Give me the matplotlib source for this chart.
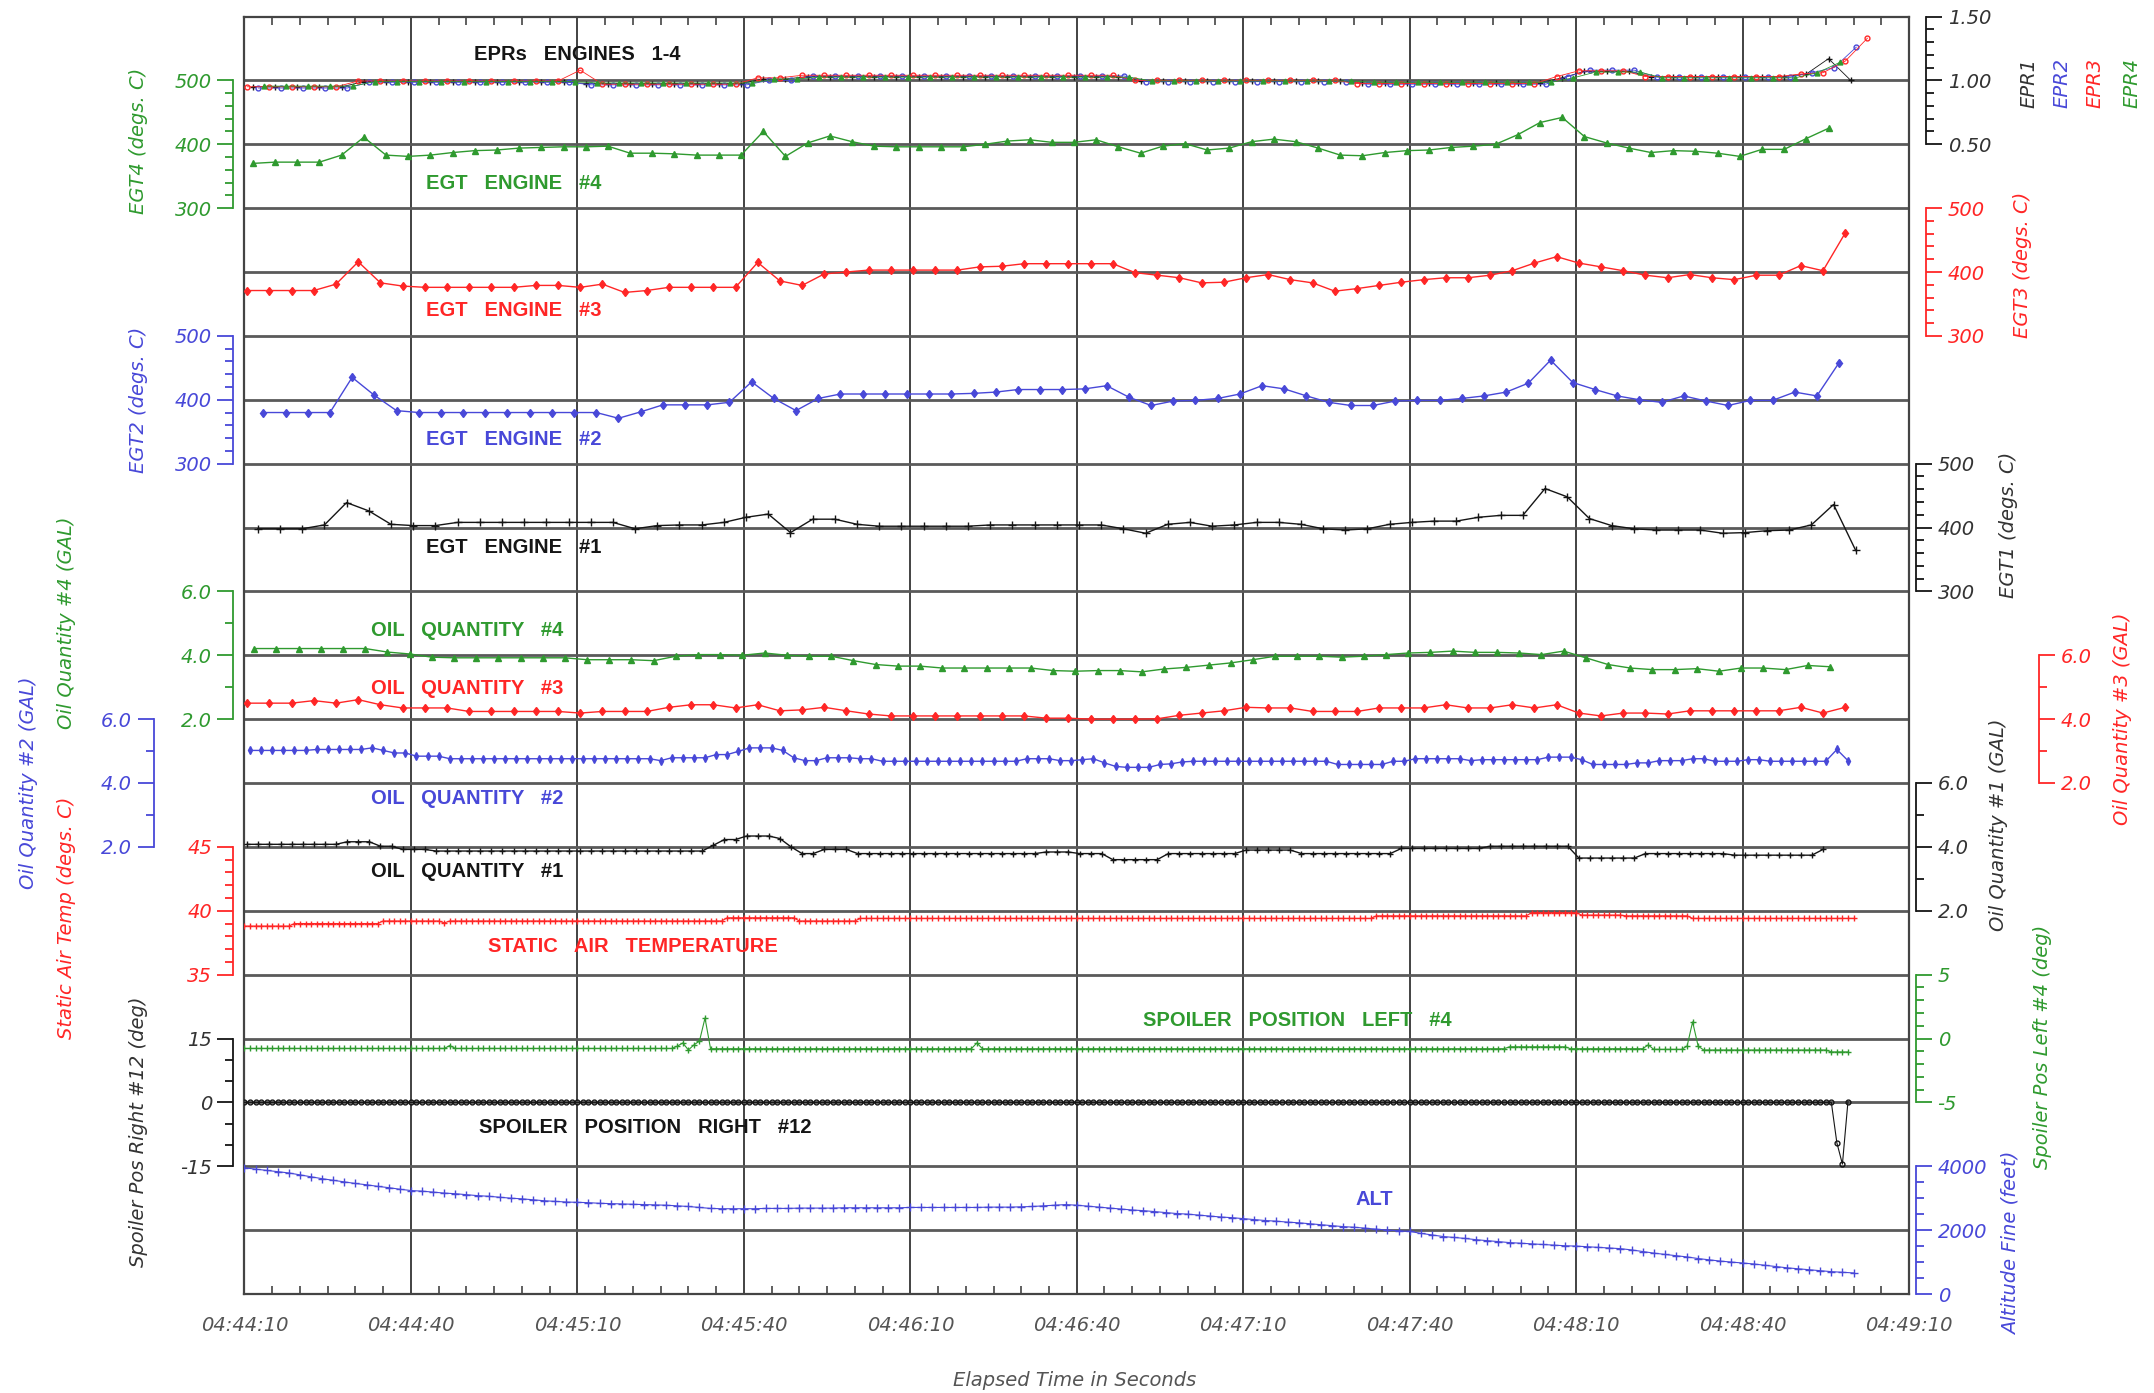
import numpy as np
import matplotlib
matplotlib.use('Agg')
import matplotlib.pyplot as plt
from matplotlib import font_manager

# ---------------------------------------------------------------- data
TIME_TICKS = [0, 30, 60, 90, 120, 150, 180, 210, 240, 270, 300]  # s after 04:44:10
TIME_LABELS = ['04:44:10', '04:44:40', '04:45:10', '04:45:40', '04:46:10', '04:46:40',
               '04:47:10', '04:47:40', '04:48:10', '04:48:40', '04:49:10']

# EPR, one sample every 4 s per engine (engines interleaved in time)
EPR_DT = 4
EPR1_T0, EPR2_T0, EPR3_T0, EPR4_T0 = 1.5, 2.5, 0.5, 3.5
EPR1 = ([0.95]*5 + [0.99]*10 + [0.975]*8 + [1.01]*2 + [1.03]*15 + [0.995]*10
        + [0.98]*9 + [1.02] + [1.07]*3 + [1.03]*7 + [1.05] + [1.17, 1.00])
EPR2 = ([0.94]*5 + [0.985]*10 + [0.965]*8 + [1.00]*2 + [1.035]*15 + [0.99]*10
        + [0.97]*9 + [1.03] + [1.08]*3 + [1.025]*7 + [1.06] + [1.10, 1.26])
EPR3 = ([0.95]*5 + [0.995]*10 + [1.08] + [0.97]*7 + [1.02]*2 + [1.04]*15 + [1.00]*10
        + [0.975]*9 + [1.03] + [1.075]*3 + [1.03]*7 + [1.05] + [1.06, 1.15, 1.33])
EPR4 = ([0.955]*5 + [0.99]*10 + [0.98]*8 + [1.01]*2 + [1.025]*15 + [0.995]*10
        + [0.985]*9 + [1.02] + [1.065]*3 + [1.02]*7 + [1.06] + [1.14])

# EGT (deg C), one sample every 4 s
EGT_DT = 4
EGT4_T0, EGT3_T0, EGT2_T0, EGT1_T0 = 1.5, 0.5, 3.4, 2.4
EGT4 = [370, 372, 372, 372, 383, 411, 383, 381, 383, 387, 390, 391, 394, 395, 396, 396, 397, 386,
        386, 385, 383, 383, 383, 420, 381, 402, 413, 404, 397, 396, 396, 396, 396, 400, 405, 407,
        403, 403, 407, 396, 386, 397, 401, 391, 394, 404, 408, 404, 394, 383, 382, 387, 390, 391,
        395, 397, 400, 415, 434, 442, 412, 402, 394, 387, 390, 389, 386, 381, 392, 392, 409, 425]
EGT3 = [371, 371, 371, 371, 381, 416, 383, 378, 376, 376, 376, 376, 376, 379, 379, 376, 381, 368,
        371, 376, 376, 376, 376, 415, 386, 379, 397, 400, 403, 403, 403, 403, 403, 408, 409, 413,
        413, 413, 413, 413, 399, 395, 391, 383, 384, 391, 396, 388, 383, 370, 374, 379, 384, 388,
        391, 391, 395, 402, 414, 424, 414, 408, 402, 395, 391, 396, 391, 388, 395, 395, 410, 402, 461]
EGT2 = [380, 380, 380, 380, 435, 407, 383, 380, 380, 380, 380, 380, 380, 380, 380, 380, 371, 381,
        392, 392, 392, 396, 428, 402, 383, 402, 409, 409, 409, 409, 409, 409, 410, 412, 416, 416,
        416, 417, 422, 404, 391, 398, 399, 402, 409, 422, 417, 406, 396, 391, 391, 398, 399, 399,
        402, 406, 412, 426, 462, 427, 416, 406, 400, 396, 406, 398, 391, 399, 399, 412, 406, 458]
EGT1 = [398, 398, 398, 404, 439, 426, 405, 403, 403, 408, 408, 408, 408, 408, 408, 408, 408, 398,
        403, 404, 404, 408, 416, 421, 392, 413, 413, 405, 402, 402, 402, 402, 402, 404, 404, 404,
        404, 404, 404, 398, 391, 405, 408, 402, 404, 408, 408, 405, 398, 396, 398, 405, 408, 410,
        410, 416, 419, 419, 461, 448, 414, 403, 398, 396, 396, 396, 391, 392, 395, 396, 404, 436, 364]

# oil quantity (GAL)
OIL4_T0, OIL4_DT = 1.75, 4
OIL4 = ([4.21]*6 + [4.10, 4.04, 3.94] + [3.92]*6 + [3.86]*3
        + [3.83, 3.97, 4.02, 4.02, 4.00, 4.07, 4.00, 3.97, 3.97, 3.83, 3.71, 3.66, 3.66]
        + [3.60]*5 + [3.52, 3.50]
        + [3.52, 3.52, 3.48, 3.57, 3.62, 3.69, 3.76, 3.86, 3.97, 3.97, 3.97, 3.94, 3.97, 4.02,
           4.07, 4.09, 4.13, 4.09, 4.09, 4.07, 4.02, 4.13, 3.92, 3.71, 3.60, 3.55, 3.55, 3.58,
           3.50, 3.60, 3.60, 3.55, 3.68, 3.64])
OIL3_T0, OIL3_DT = 0.5, 4
OIL3 = [4.50, 4.50, 4.50, 4.58, 4.50, 4.61, 4.45, 4.35, 4.35, 4.35, 4.24, 4.24, 4.24, 4.24, 4.24,
        4.19, 4.24, 4.24, 4.24, 4.37, 4.45, 4.45, 4.35, 4.45, 4.26, 4.29, 4.37, 4.26, 4.16, 4.10,
        4.10, 4.10, 4.10, 4.10, 4.10, 4.10, 4.03, 4.03,
        4.00, 4.00, 4.00, 4.01, 4.12, 4.19, 4.26, 4.37, 4.35, 4.35, 4.24, 4.24, 4.24, 4.35, 4.35,
        4.35, 4.45, 4.35, 4.35, 4.45, 4.35, 4.45, 4.19, 4.10, 4.19, 4.19, 4.16, 4.26, 4.26, 4.26,
        4.26, 4.26, 4.37, 4.19, 4.37]
OIL2_T0, OIL2_DT = 1, 2
OIL2 = ([5.02]*6 + [5.05]*5 + [5.10, 5.02] + [4.94]*2 + [4.84]*3 + [4.76]*19 + [4.70]
        + [4.79]*4 + [4.89]*2 + [4.99] + [5.10]*3 + [5.02, 4.79] + [4.70]*2 + [4.79]*3
        + [4.76]*2 + [4.68]*13 + [4.76]*3 + [4.70]*2
        + [4.73, 4.76, 4.63, 4.52] + [4.49]*3 + [4.58, 4.60, 4.66] + [4.68]*13 + [4.58]*5
        + [4.68]*2 + [4.76]*5 + [4.70] + [4.73]*6 + [4.81]*3 + [4.73] + [4.58]*4 + [4.63]*2
        + [4.70]*3 + [4.76]*2 + [4.68]*3 + [4.73]*2 + [4.68]*6 + [5.05, 4.70])
OIL1_T0, OIL1_DT = 0.5, 2
OIL1 = ([4.08]*9 + [4.16]*3 + [4.02]*2 + [3.92]*3 + [3.87]*25 + [4.05] + [4.23]*2 + [4.34]*3
        + [4.26, 4.00] + [3.79]*2 + [3.92]*3 + [3.79]*17 + [3.84]*3
        + [3.79]*3 + [3.60]*5 + [3.79]*7 + [3.90]*5 + [3.79]*9 + [3.95]*8 + [4.02]*8
        + [3.65]*6 + [3.79]*8 + [3.74]*8 + [3.92])

# static air temperature (deg C), 1 s
SAT_T0, SAT_DT = 0, 1
SAT = ([38.8]*9 + [39.0]*16 + [39.2]*11 + [39.05] + [39.2]*50 + [39.45]*13 + [39.2]*11
       + [39.4]*93 + [39.6]*28 + [39.85]*9 + [39.66]*8 + [39.6]*12 + [39.4]*30)

# spoilers (deg), 1 s
SPL_T0, SPL_DT = 0, 1
SPOILER_LEFT4 = ([-0.78]*37 + [-0.55] + [-0.78]*40 + [-0.6, -0.35, -0.9, -0.5, -0.2, 1.6, -0.8]
                 + [-0.8]*47 + [-0.35] + [-0.8]*95 + [-0.65]*11 + [-0.8]*14 + [-0.5]
                 + [-0.85]*6 + [-0.6, 1.3, -0.6] + [-0.9]*23 + [-1.05]*4)
SPR_T0, SPR_DT = 0, 1
SPOILER_RIGHT12 = [0.0]*287 + [-9.5, -14.5, 0.2]

# altitude fine (feet), 2 s
ALT_T0, ALT_DT = 0, 2
ALT = [3950, 3910, 3870, 3830, 3790, 3730, 3670, 3610, 3560, 3510, 3460, 3420, 3370, 3330, 3280,
       3240, 3220, 3190, 3160, 3140, 3110, 3080, 3060, 3030, 3000, 2980, 2950, 2920, 2900, 2880,
       2870, 2860, 2840, 2830, 2820, 2810, 2800, 2790, 2780, 2760, 2740, 2710, 2680, 2670, 2670,
       2670, 2670, 2680, 2680, 2680, 2690, 2690, 2690, 2690, 2700, 2700, 2700, 2700, 2700, 2700,
       2710, 2710, 2710, 2710, 2710, 2710, 2710, 2720, 2720, 2720, 2730, 2740, 2760, 2780, 2800,
       2780, 2750, 2720, 2690, 2660, 2630, 2610, 2580, 2550, 2520, 2500, 2470, 2440, 2410, 2390,
       2360, 2330, 2300, 2280, 2250, 2230, 2200, 2170, 2140, 2110, 2090, 2060, 2030, 2000, 1980,
       1960, 1900, 1850, 1800, 1770, 1740, 1700, 1670, 1640, 1610, 1590, 1570, 1550, 1530, 1510,
       1500, 1480, 1460, 1440, 1420, 1380, 1330, 1280, 1240, 1200, 1160, 1110, 1070, 1030, 1000,
       970, 940, 900, 860, 820, 790, 760, 730, 700, 680, 660]

# ---------------------------------------------------------------- style
GREEN = '#2f9a2f'
RED = '#ff2626'
BLUE = '#4848d8'
BLACK = '#151515'
GREY = '#555555'

names = {f.name for f in font_manager.fontManager.ttflist}
TITLE_FONT = 'Liberation Sans' if 'Liberation Sans' in names else 'DejaVu Sans'

W, H = 2154, 1393
PT = 0.72  # points per pixel at dpi 100

fig = plt.figure(figsize=(W / 100, H / 100), dpi=100)
L, R, T, B = 244.5, 1909, 16.5, 1294
ax = fig.add_axes([L / W, 1 - B / H, (R - L) / W, (B - T) / H])
ax.set_xlim(0, 300)
ax.set_ylim(0, 20)
for s in ax.spines.values():
    s.set_color('#444444')
    s.set_linewidth(1.6)
ax.set_yticks(range(1, 20))
ax.set_yticklabels([])
ax.tick_params(axis='y', length=0)
ax.grid(axis='y', color='#5a5a5a', lw=2.0)
ax.set_xticks(TIME_TICKS)
ax.set_xticklabels(TIME_LABELS, fontstyle='italic', color=GREY, fontsize=14)
ax.set_xticks(np.arange(0, 301, 5), minor=True)
ax.tick_params(axis='x', which='major', length=0, pad=16)
ax.tick_params(axis='x', which='minor', direction='in', length=8 * PT, width=1.2,
               color='#444444', top=True, bottom=True)
ax.grid(axis='x', which='major', color='#222222', lw=1.2)


def channel(side, top, k, step, minor, color, offset_px, fmt, label_color=None):
    a = ax.twinx()
    a.set_ylim(top - (20 - k) * step, top + k * step)
    lo = top - 2 * step
    majors = [top, top - step, lo]
    minors = [v for v in np.arange(lo, top + minor / 2, minor)
              if min(abs(v - m) for m in majors) > minor / 10]
    for s in a.spines.values():
        s.set_visible(False)
    sp = a.spines[side]
    sp.set_visible(True)
    sp.set_position(('outward', offset_px * PT))
    sp.set_bounds(lo, top)
    sp.set_color(color)
    sp.set_linewidth(1.3)
    if side == 'left':
        a.yaxis.set_ticks_position('left')
    a.set_yticks(majors)
    a.set_yticklabels([fmt % v for v in majors], fontstyle='italic',
                      color=label_color or color, fontsize=14)
    a.set_yticks(minors, minor=True)
    a.tick_params(axis='y', which='major', length=16 * PT, width=1.3, color=color, pad=4)
    a.tick_params(axis='y', which='minor', length=8 * PT, width=1.3, color=color)
    return a


def times(t0, dt, vals):
    return t0 + dt * np.arange(len(vals))


def trace(a, t0, dt, vals, color, marker, ms=4, lw=1.0, mfc=None):
    a.plot(times(t0, dt, vals), vals, color=color, lw=lw, marker=marker, ms=ms,
           mew=1.0, mfc=mfc if mfc else color)


# EPR
a = channel('right', 1.5, 0, 0.5, 0.1, BLACK, 17, '%.2f', label_color='#333333')
trace(a, EPR1_T0, EPR_DT, EPR1, BLACK, '+', ms=4, lw=0.6)
trace(a, EPR2_T0, EPR_DT, EPR2, BLUE, 'o', ms=3.5, lw=0.6, mfc='none')
trace(a, EPR3_T0, EPR_DT, EPR3, RED, 'o', ms=3.5, lw=0.6, mfc='none')
trace(a, EPR4_T0, EPR_DT, EPR4, GREEN, '^', ms=3.5, lw=0.6)

# EGT
a = channel('left', 500, 1, 100, 20, GREEN, 11, '%d')
trace(a, EGT4_T0, EGT_DT, EGT4, GREEN, '^', ms=4)
a = channel('right', 500, 3, 100, 20, RED, 17, '%d')
trace(a, EGT3_T0, EGT_DT, EGT3, RED, 'd', ms=4.5)
a = channel('left', 500, 5, 100, 20, BLUE, 11, '%d')
trace(a, EGT2_T0, EGT_DT, EGT2, BLUE, 'd', ms=4.5)
a = channel('right', 500, 7, 100, 20, BLACK, 7, '%d', label_color='#333333')
trace(a, EGT1_T0, EGT_DT, EGT1, BLACK, '+', ms=6)

# oil quantity
a = channel('left', 6.0, 9, 2.0, 1.0, GREEN, 11, '%.1f')
trace(a, OIL4_T0, OIL4_DT, OIL4, GREEN, '^', ms=4)
a = channel('right', 6.0, 10, 2.0, 1.0, RED, 130, '%.1f')
trace(a, OIL3_T0, OIL3_DT, OIL3, RED, 'd', ms=4.5)
a = channel('left', 6.0, 11, 2.0, 1.0, BLUE, 91, '%.1f')
trace(a, OIL2_T0, OIL2_DT, OIL2, BLUE, 'd', ms=4)
a = channel('right', 6.0, 12, 2.0, 1.0, BLACK, 7, '%.1f', label_color='#333333')
trace(a, OIL1_T0, OIL1_DT, OIL1, BLACK, '+', ms=5)

# static air temperature
a = channel('left', 45, 13, 5, 1, RED, 11, '%d')
trace(a, SAT_T0, SAT_DT, SAT, RED, '+', ms=4, lw=0.8)

# spoilers
a = channel('right', 5, 15, 5, 1, GREEN, 7, '%d')
trace(a, SPL_T0, SPL_DT, SPOILER_LEFT4, GREEN, '+', ms=4, lw=0.8)
a = channel('left', 15, 16, 15, 5, BLACK, 11, '%d', label_color='#333333')
trace(a, SPR_T0, SPR_DT, SPOILER_RIGHT12, BLACK, 'o', ms=3.5, lw=0.8, mfc='none')

# altitude
a = channel('right', 4000, 18, 2000, 500, BLUE, 7, '%d')
trace(a, ALT_T0, ALT_DT, ALT, BLUE, '+', ms=6, lw=0.8)

# ---------------------------------------------------------------- titles inside the plot
titles = [
    ('EPRs   ENGINES   1-4', 41.3, 19.40, BLACK),
    ('EGT   ENGINE   #4', 32.7, 17.38, GREEN),
    ('EGT   ENGINE   #3', 32.7, 15.40, RED),
    ('EGT   ENGINE   #2', 32.7, 13.38, BLUE),
    ('EGT   ENGINE   #1', 32.7, 11.68, BLACK),
    ('OIL   QUANTITY   #4', 22.8, 10.39, GREEN),
    ('OIL   QUANTITY   #3', 22.8, 9.48, RED),
    ('OIL   QUANTITY   #2', 22.8, 7.76, BLUE),
    ('OIL   QUANTITY   #1', 22.8, 6.62, BLACK),
    ('STATIC   AIR   TEMPERATURE', 43.8, 5.44, RED),
    ('SPOILER   POSITION   LEFT   #4', 161.9, 4.28, GREEN),
    ('SPOILER   POSITION   RIGHT   #12', 42.3, 2.60, BLACK),
    ('ALT', 200.2, 1.48, BLUE),
]
for txt, x, y, c in titles:
    ax.text(x, y, txt, color=c, fontsize=14.5, fontweight='bold', family=TITLE_FONT,
            ha='left', va='center', zorder=10)

# ---------------------------------------------------------------- axis labels (pixel positions)
labels = [
    ('EGT4 (degs. C)', 138, 141, GREEN),
    ('EGT2 (degs. C)', 138, 400, BLUE),
    ('Oil Quantity #4 (GAL)', 67, 623, GREEN),
    ('Oil Quantity #2 (GAL)', 29, 783, BLUE),
    ('Static Air Temp (degs. C)', 67, 918, RED),
    ('Spoiler Pos Right #12 (deg)', 138, 1132, '#333333'),
    ('EPR1', 2029, 83, '#333333'),
    ('EPR2', 2062, 83, BLUE),
    ('EPR3', 2095, 83, RED),
    ('EPR4', 2132, 83, GREEN),
    ('EGT3 (degs. C)', 2022, 265, RED),
    ('EGT1 (degs. C)', 2008, 525, '#333333'),
    ('Oil Quantity #1 (GAL)', 1998, 825, '#333333'),
    ('Oil Quantity #3 (GAL)', 2122, 719, RED),
    ('Spoiler Pos Left #4 (deg)', 2042, 1047, GREEN),
    ('Altitude Fine (feet)', 2011, 1243, BLUE),
]
for txt, x, y, c in labels:
    fig.text(x / W, 1 - y / H, txt, rotation=90, color=c, fontsize=14, fontstyle='italic',
             ha='center', va='center')

fig.text(1075 / W, 1 - 1381 / H, 'Elapsed Time in Seconds', color=GREY, fontsize=14,
         fontstyle='italic', ha='center', va='center')

fig.savefig('out.png', dpi=100)
